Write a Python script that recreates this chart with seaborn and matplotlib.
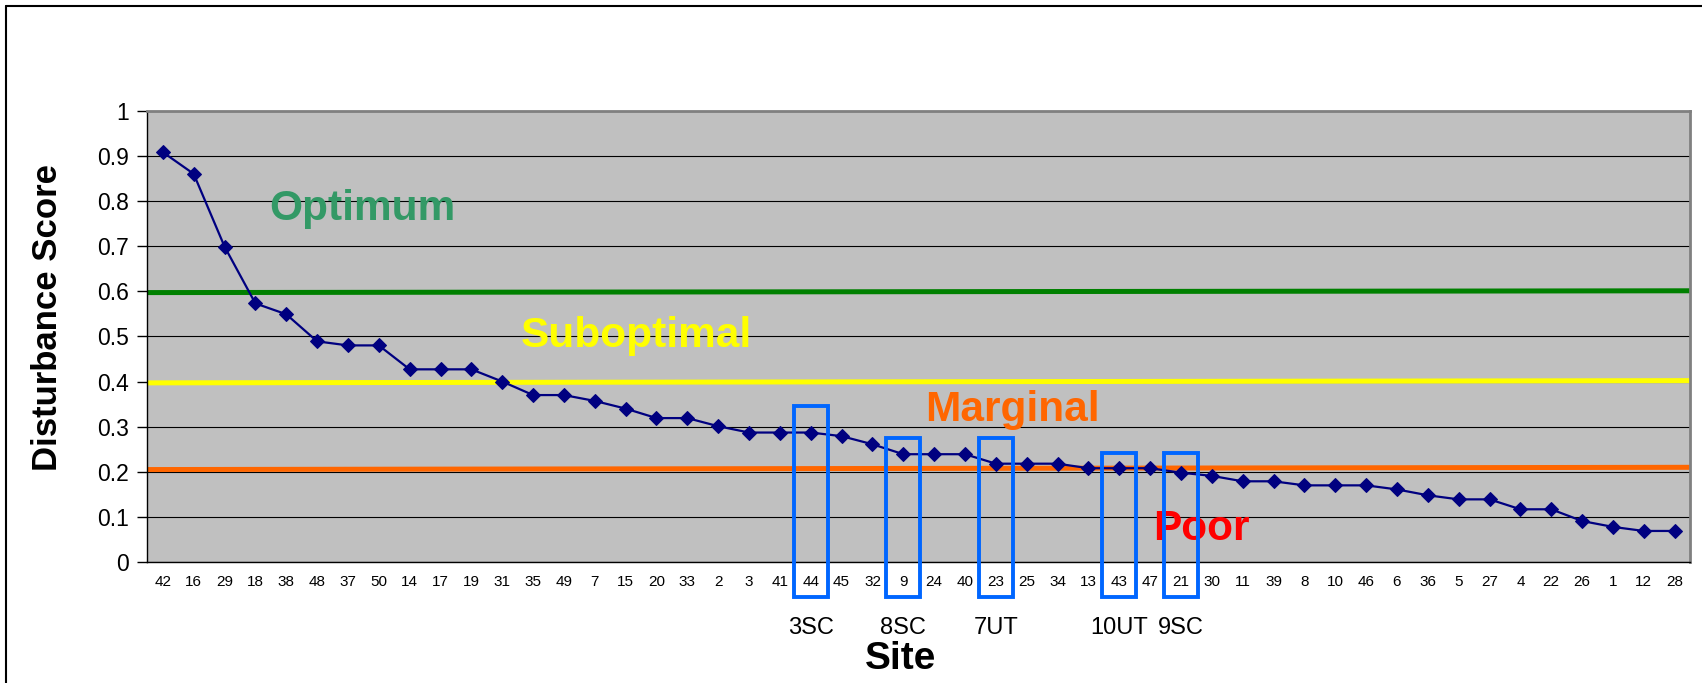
import numpy as np
import pandas as pd
import matplotlib.pyplot as plt
import matplotlib.patches as mpatches
import seaborn as sns

# Site order and disturbance scores
sites = ["42", "16", "29", "18", "38", "48", "37", "50", "14", "17",
         "19", "31", "35", "49", "7", "15", "20", "33", "2", "3",
         "41", "44", "45", "32", "9", "24", "40", "23", "25", "34",
         "13", "43", "47", "21", "30", "11", "39", "8", "10", "46",
         "6", "36", "5", "27", "4", "22", "26", "1", "12", "28"]
scores = [0.908, 0.860, 0.699, 0.573, 0.549, 0.489, 0.480, 0.480, 0.427, 0.427,
          0.427, 0.400, 0.370, 0.370, 0.357, 0.340, 0.319, 0.319, 0.301, 0.287,
          0.287, 0.287, 0.279, 0.261, 0.239, 0.239, 0.239, 0.218, 0.218, 0.218,
          0.208, 0.208, 0.208, 0.198, 0.191, 0.179, 0.179, 0.170, 0.170, 0.170,
          0.161, 0.148, 0.139, 0.139, 0.117, 0.117, 0.091, 0.078, 0.069, 0.069]

# Threshold lines (value at left edge, value at right edge)
threshold_names = ["Optimum", "Suboptimal", "Marginal"]
threshold_start = [0.597, 0.397, 0.205]
threshold_end = [0.601, 0.402, 0.210]
threshold_colors = ["#008000", "#FFFF00", "#FF6600"]

# Category labels inside the plot
zone_labels = ["Optimum", "Suboptimal", "Marginal", "Poor"]
zone_x = [3.45, 11.6, 24.7, 32.1]
zone_y = [0.783, 0.50, 0.338, 0.073]
zone_colors = ["#339966", "#FFFF00", "#FF6600", "#FF0000"]

# Highlighted reference sites
box_sites = ["44", "9", "23", "43", "21"]
box_names = ["3SC", "8SC", "7UT", "10UT", "9SC"]
box_tops = [0.345, 0.276, 0.276, 0.241, 0.241]

df = pd.DataFrame({"pos": np.arange(len(sites)), "site": sites, "score": scores})

sns.set_style("white")
plt.rcParams["font.family"] = ["Liberation Sans", "DejaVu Sans"]
plt.rcParams["text.color"] = "black"
plt.rcParams["axes.labelcolor"] = "black"
plt.rcParams["xtick.color"] = "black"
plt.rcParams["ytick.color"] = "black"

fig = plt.figure(figsize=(17.02, 6.83), dpi=100)
ax = fig.add_axes([0.0866, 0.177, 0.9064, 0.661])
ax.set_facecolor("#C0C0C0")

# grid lines
ax.set_ylim(0, 1)
ax.set_yticks(np.arange(0, 1.01, 0.1))
ax.set_yticklabels(["0", "0.1", "0.2", "0.3", "0.4", "0.5", "0.6", "0.7", "0.8", "0.9", "1"])
ax.grid(axis="y", color="black", linewidth=0.8)
ax.set_axisbelow(True)

# threshold lines
for start, end, col in zip(threshold_start, threshold_end, threshold_colors):
    ax.plot([0, 1], [start, end], color=col, linewidth=3.6,
            transform=ax.get_yaxis_transform(), zorder=2)

sns.lineplot(data=df, x="pos", y="score", ax=ax, color="#000080", linewidth=1.6,
             marker="D", markersize=7.5, markeredgecolor="#000080", zorder=3)

ax.set_xlim(-0.5, len(sites) - 0.5)
ax.set_xticks(df["pos"])
ax.set_xticklabels(sites, fontsize=11)
ax.set_xticks(np.arange(-0.5, len(sites), 1), minor=True)
ax.tick_params(axis="x", which="major", length=0, pad=9)
ax.tick_params(axis="x", which="minor", length=5, width=1, color="black", direction="out")
ax.tick_params(axis="y", length=7, width=1, color="black", direction="out", labelsize=16.5, pad=6)
ax.tick_params(left=True, bottom=True)

for name, x, y, col in zip(zone_labels, zone_x, zone_y, zone_colors):
    ax.text(x, y, name, color=col, fontsize=30.5, fontweight="bold", va="center", ha="left", zorder=4)

# boxes around the reference sites
pos_lookup = dict(zip(sites, df["pos"]))
for site, name, top in zip(box_sites, box_names, box_tops):
    p = pos_lookup[site]
    rect = mpatches.Rectangle((p - 0.55, -0.077), 1.1, top + 0.077, fill=False,
                              edgecolor="#0066FF", linewidth=2.8, clip_on=False, zorder=5)
    ax.add_patch(rect)
    ax.text(p, -0.145, name, ha="center", va="center", fontsize=17, clip_on=False)

ax.set_xlabel("Site", fontsize=28, fontweight="bold")
ax.xaxis.set_label_coords(0.4885, -0.215)
ax.xaxis.label.set_va("center")
ax.set_ylabel("Disturbance Score", fontsize=25, fontweight="bold")
ax.yaxis.set_label_coords(-0.065, 0.542)
ax.yaxis.label.set_va("center")

for side in ["top", "right"]:
    ax.spines[side].set_color("#808080")
    ax.spines[side].set_linewidth(2)
for side in ["left", "bottom"]:
    ax.spines[side].set_color("black")
    ax.spines[side].set_linewidth(1)

# outer frame (top and left edges visible)
fig.add_artist(plt.Line2D([6 / 1702, 1], [1 - 6 / 683, 1 - 6 / 683], color="black", linewidth=1.5))
fig.add_artist(plt.Line2D([6 / 1702, 6 / 1702], [0, 1 - 6 / 683], color="black", linewidth=1.5))

fig.savefig("out.png", dpi=100)
